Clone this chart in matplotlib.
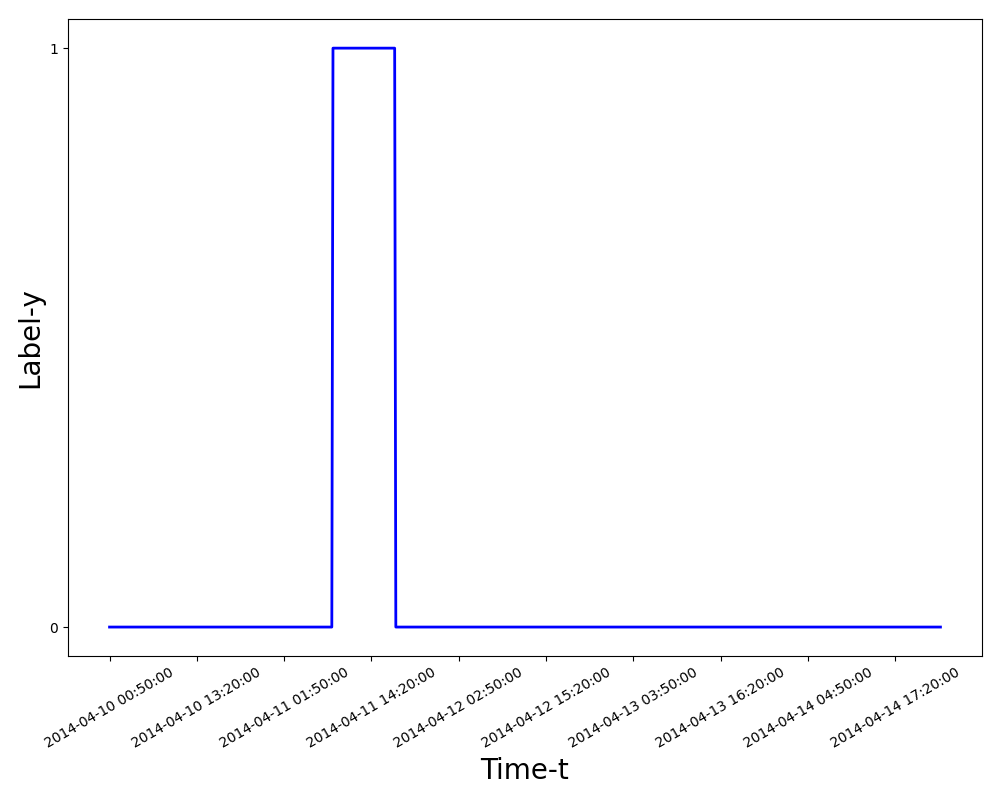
import numpy as np
import pandas as pd
import matplotlib.pyplot as plt

# label runs (value, number of 10-minute samples)
run_values = [0, 1, 0]
run_lengths = [192, 54, 469]
start_time = '2014-04-10 00:50:00'
tick_step = 75

labels = np.repeat(run_values, run_lengths)
times = pd.date_range(start_time, periods=len(labels), freq='10min')
time_str = times.strftime('%Y-%m-%d %H:%M:%S')

fig = plt.figure(figsize=(10, 8), dpi=100)
plt.plot(range(len(labels)), labels, color='blue', linewidth=2)
tick_pos = list(range(0, len(labels), tick_step))
plt.xticks(tick_pos, [time_str[i] for i in tick_pos], rotation=30)
plt.yticks([0, 1])
plt.xlabel('Time-t', fontsize=20)
plt.ylabel('Label-y', fontsize=20)
plt.subplots_adjust(left=0.068, right=0.982, top=0.976, bottom=0.18)
plt.savefig('out.png')
